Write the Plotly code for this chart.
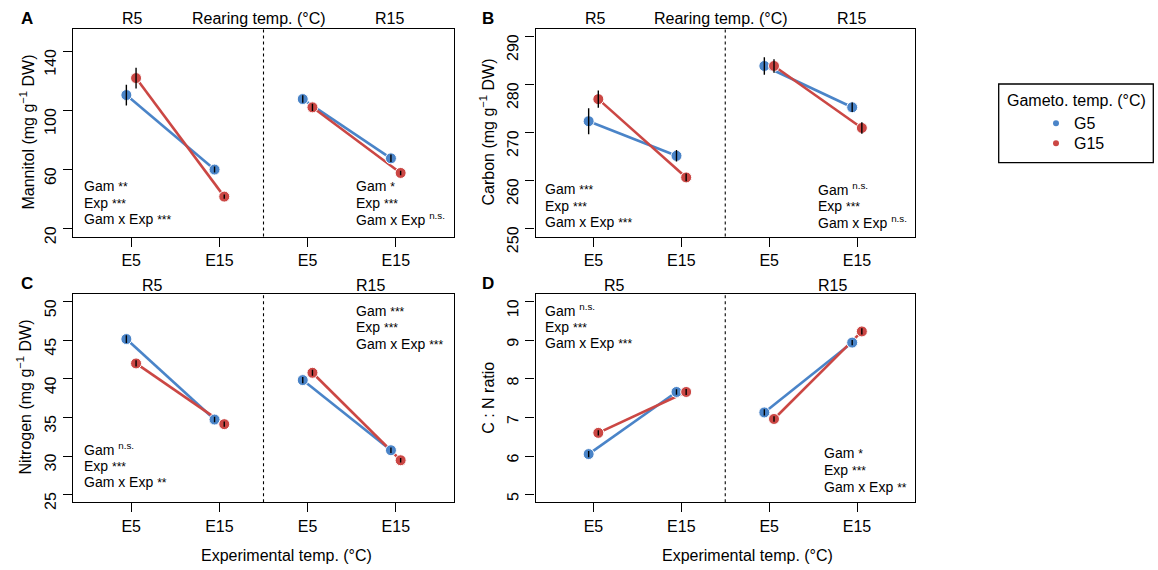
import plotly.graph_objects as go

# ---- data -------------------------------------------------------------
# x positions: R5-E5, R5-E15, R15-E5, R15-E15
positions = [1, 2, 3, 4]
tick_labels = ["E5", "E15", "E5", "E15"]

mannitol_g5 = [110.5, 60.1, 107.8, 67.7]
mannitol_g15 = [122.0, 41.8, 102.2, 57.8]
mannitol_g5_se = [7.0, 2.0, 2.5, 2.5]
mannitol_g15_se = [7.0, 1.5, 2.5, 1.5]

carbon_g5 = [272.4, 265.2, 283.9, 275.3]
carbon_g15 = [277.0, 260.7, 283.9, 271.0]
carbon_g5_se = [2.7, 1.2, 1.8, 1.0]
carbon_g15_se = [1.8, 0.8, 1.4, 1.2]

nitrogen_g5 = [45.16, 34.73, 39.84, 30.75]
nitrogen_g15 = [42.0, 34.13, 40.79, 29.45]
nitrogen_g5_se = [0.5, 0.35, 0.4, 0.35]
nitrogen_g15_se = [0.4, 0.35, 0.4, 0.3]

cn_g5 = [6.05, 7.66, 7.13, 8.94]
cn_g15 = [6.60, 7.66, 6.96, 9.23]
cn_g5_se = [0.08, 0.07, 0.08, 0.07]
cn_g15_se = [0.07, 0.08, 0.07, 0.08]

# significance labels: (R5 block, R15 block), each line = (term, stars)
stats_mannitol = ([("Gam", "**"), ("Exp", "***"), ("Gam x Exp", "***")],
                  [("Gam", "*"), ("Exp", "***"), ("Gam x Exp", "n.s.")])
stats_carbon = ([("Gam", "***"), ("Exp", "***"), ("Gam x Exp", "***")],
                [("Gam", "n.s."), ("Exp", "***"), ("Gam x Exp", "n.s.")])
stats_nitrogen = ([("Gam", "n.s."), ("Exp", "***"), ("Gam x Exp", "**")],
                  [("Gam", "***"), ("Exp", "***"), ("Gam x Exp", "***")])
stats_cn = ([("Gam", "n.s."), ("Exp", "***"), ("Gam x Exp", "***")],
            [("Gam", "*"), ("Exp", "***"), ("Gam x Exp", "**")])

# ---- style ------------------------------------------------------------
W, H = 1158, 570
BLUE = "#4A84C8"
RED = "#CB4744"
FONT = "Liberation Sans, Arial, Helvetica, sans-serif"
DODGE = 0.055


def px(x):
    return x / W


def py(y):
    return 1 - y / H


panels = [
    dict(key="A", ax="", g5=mannitol_g5, g15=mannitol_g15, e5=mannitol_g5_se, e15=mannitol_g15_se,
         xdom=(73, 454), ydom=(29, 236.5), yrange=(14.8, 155.2), yticks=[20, 60, 100, 140],
         ytitle="Mannitol (mg g<sup>\u22121</sup> DW)", ytx=28, yty=132.5,
         letter=(26.7, 18.5), rlab=[(132.7, 18.5, "R5"), (259, 18.5, "Rearing temp. (\u00b0C)"), (389.3, 18.5, "R15")],
         stats=stats_mannitol, sL=(81.7, 186), sR=(354, 186), xlabel=False),
    dict(key="B", ax="2", g5=carbon_g5, g15=carbon_g15, e5=carbon_g5_se, e15=carbon_g15_se,
         xdom=(535.5, 915), ydom=(29, 236.5), yrange=(248.4, 291.6), yticks=[250, 260, 270, 280, 290],
         ytitle="Carbon (mg g<sup>\u22121</sup> DW)", ytx=488, yty=132.5,
         letter=(488.3, 18.5), rlab=[(595, 18.5, "R5"), (721, 18.5, "Rearing temp. (\u00b0C)"), (851.7, 18.5, "R15")],
         stats=stats_carbon, sL=(543.3, 189), sR=(816, 189), xlabel=False),
    dict(key="C", ax="3", g5=nitrogen_g5, g15=nitrogen_g15, e5=nitrogen_g5_se, e15=nitrogen_g15_se,
         xdom=(73, 454), ydom=(294, 502.3), yrange=(24, 51), yticks=[25, 30, 35, 40, 45, 50],
         ytitle="Nitrogen (mg g<sup>\u22121</sup> DW)", ytx=25, yty=397.5,
         letter=(26.7, 283.5), rlab=[(152.7, 285, "R5"), (370, 285, "R15")],
         stats=stats_nitrogen, sL=(82.3, 449), sR=(354, 310.7), xlabel=True, xlx=286.7),
    dict(key="D", ax="4", g5=cn_g5, g15=cn_g15, e5=cn_g5_se, e15=cn_g15_se,
         xdom=(535.5, 915), ydom=(294, 502.3), yrange=(4.8, 10.2), yticks=[5, 6, 7, 8, 9, 10],
         ytitle="C : N ratio", ytx=488.3, yty=397.5,
         letter=(488.3, 283.5), rlab=[(614, 285, "R5"), (832.3, 285, "R15")],
         stats=stats_cn, sL=(543.3, 310), sR=(821.7, 453.3), xlabel=True, xlx=747.5),
]

fig = go.Figure()
annotations = []
shapes = []
LINE_GAP = 16.7


def paired(xs, ys):
    """Split the four values into the two rearing-temperature segments."""
    return xs[:2] + [None] + xs[2:], ys[:2] + [None] + ys[2:]


def errbars(xs, ys, es):
    ex, ey = [], []
    for x, y, e in zip(xs, ys, es):
        ex += [x, x, None]
        ey += [y - e, y + e, None]
    return ex, ey


def sig_text(term, sig):
    if sig == "n.s.":
        return "%s <sup>n.s.</sup>" % term
    return '%s <span style="font-size:12px">%s</span>' % (term, sig)


for p in panels:
    xa, ya = "x" + p["ax"], "y" + p["ax"]
    series = [(p["g5"], p["e5"], BLUE, -DODGE), (p["g15"], p["e15"], RED, DODGE)]
    # connecting lines
    for vals, _, col, off in series:
        xs = [v + off for v in positions]
        lx, ly = paired(xs, vals)
        fig.add_trace(go.Scatter(x=lx, y=ly, mode="lines", line=dict(color=col, width=2.6),
                                 xaxis=xa, yaxis=ya, showlegend=False, hoverinfo="skip"))
    # points
    for vals, _, col, off in series:
        xs = [v + off for v in positions]
        fig.add_trace(go.Scatter(x=xs, y=vals, mode="markers",
                                 marker=dict(color=col, size=11, line=dict(color="white", width=1)),
                                 xaxis=xa, yaxis=ya, showlegend=False))
    # error bars on top of the points
    for vals, errs, col, off in series:
        xs = [v + off for v in positions]
        ex, ey = errbars(xs, vals, errs)
        fig.add_trace(go.Scatter(x=ex, y=ey, mode="lines", line=dict(color="black", width=1.4),
                                 xaxis=xa, yaxis=ya, showlegend=False, hoverinfo="skip"))

    sfx = p["ax"]
    fig.update_layout(**{
        "xaxis" + sfx: dict(domain=[px(p["xdom"][0]), px(p["xdom"][1])], range=[0.34, 4.66],
                            anchor=ya, tickmode="array", tickvals=positions, ticktext=tick_labels,
                            ticks="outside", ticklen=9, tickwidth=1.2, tickcolor="black",
                            showline=True, linecolor="black", linewidth=1.3, mirror=True,
                            showgrid=False, zeroline=False, automargin=False,
                            tickfont=dict(family=FONT, size=16, color="black")),
        "yaxis" + sfx: dict(domain=[py(p["ydom"][1]), py(p["ydom"][0])], range=list(p["yrange"]),
                            anchor=xa, tickmode="array", tickvals=p["yticks"],
                            ticks="outside", ticklen=9, tickwidth=1.2, tickcolor="black",
                            tickangle=-89.9, ticklabelstandoff=12,
                            showline=True, linecolor="black", linewidth=1.3,
                            mirror=True, showgrid=False, zeroline=False, automargin=False,
                            tickfont=dict(family=FONT, size=16, color="black")),
    })

    # dotted divider between rearing temperatures
    shapes.append(dict(type="line", xref=xa, yref="paper", x0=2.5, x1=2.5,
                       y0=py(p["ydom"][1]), y1=py(p["ydom"][0]),
                       line=dict(color="black", width=1.1, dash="dot")))

    # panel letter
    annotations.append(dict(x=px(p["letter"][0]), y=py(p["letter"][1]), xref="paper", yref="paper",
                            text="<b>%s</b>" % p["key"], showarrow=False,
                            font=dict(family=FONT, size=17, color="black"),
                            xanchor="center", yanchor="middle"))
    # rearing labels above the panel
    for lx, ly, txt in p["rlab"]:
        annotations.append(dict(x=px(lx), y=py(ly), xref="paper", yref="paper", text=txt,
                                showarrow=False, font=dict(family=FONT, size=16, color="black"),
                                xanchor="center", yanchor="middle"))
    # y-axis title
    annotations.append(dict(x=px(p["ytx"]), y=py(p["yty"]), xref="paper", yref="paper",
                            text=p["ytitle"], textangle=-90, showarrow=False,
                            font=dict(family=FONT, size=16, color="black"),
                            xanchor="center", yanchor="middle"))
    # x-axis title
    if p["xlabel"]:
        annotations.append(dict(x=px(p["xlx"]), y=py(555), xref="paper", yref="paper",
                                text="Experimental temp. (\u00b0C)", showarrow=False,
                                font=dict(family=FONT, size=16, color="black"),
                                xanchor="center", yanchor="middle"))
    # significance blocks
    for block, (bx, by) in zip(p["stats"], (p["sL"], p["sR"])):
        for i, (term, sig) in enumerate(block):
            annotations.append(dict(x=px(bx), y=py(by + i * LINE_GAP), xref="paper", yref="paper",
                                    text=sig_text(term, sig), showarrow=False,
                                    font=dict(family=FONT, size=14, color="black"),
                                    xanchor="left", yanchor="middle"))

# legend box
shapes.append(dict(type="rect", xref="paper", yref="paper", x0=px(998.7), x1=px(1153.3),
                   y0=py(162.7), y1=py(84), line=dict(color="black", width=1.3)))
annotations.append(dict(x=px(1076), y=py(100), xref="paper", yref="paper",
                        text="Gameto. temp. (\u00b0C)", showarrow=False,
                        font=dict(family=FONT, size=16, color="black"),
                        xanchor="center", yanchor="middle"))
for yy, col, lab in [(123.3, BLUE, "G5"), (143.3, RED, "G15")]:
    shapes.append(dict(type="circle", xref="paper", yref="paper",
                       x0=px(1056 - 3), x1=px(1056 + 3), y0=py(yy + 3), y1=py(yy - 3),
                       fillcolor=col, line=dict(width=0)))
    annotations.append(dict(x=px(1071.7), y=py(yy), xref="paper", yref="paper", text=lab,
                            showarrow=False, font=dict(family=FONT, size=16, color="black"),
                            xanchor="left", yanchor="middle"))

fig.update_layout(width=W, height=H, margin=dict(l=0, r=0, t=0, b=0, autoexpand=False),
                  paper_bgcolor="white", plot_bgcolor="white", showlegend=False,
                  annotations=annotations, shapes=shapes,
                  font=dict(family=FONT, size=16, color="black"))

fig.write_html("out.html")
